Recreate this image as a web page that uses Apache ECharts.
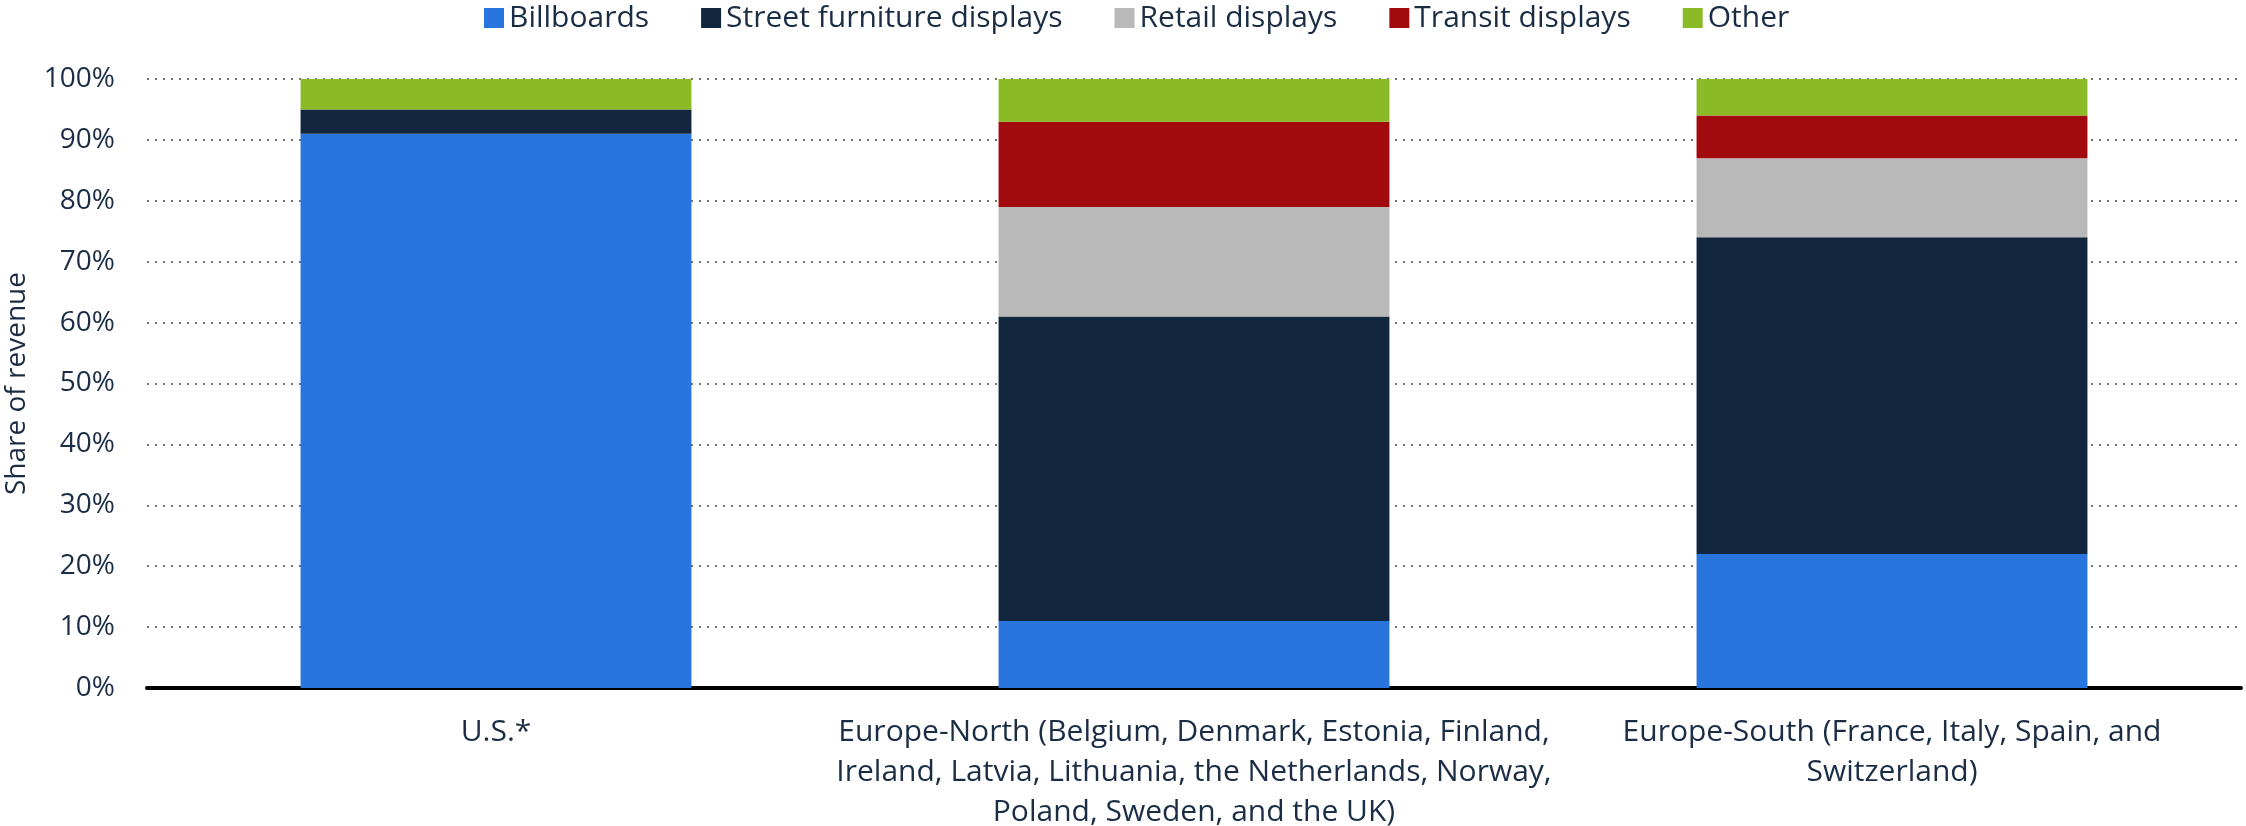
<!DOCTYPE html>
<html>
<head>
<meta charset="utf-8">
<script src="https://cdn.jsdelivr.net/npm/echarts@6/dist/echarts.min.js"></script>
<style>
html,body{margin:0;padding:0;background:#fff;}
#chart{width:2246px;height:826px;}
</style>
</head>
<body>
<div id="chart"></div>
<script>
// regions (line breaks as in the original labels)
var categories = [
	'U.S.*',
	'Europe-North (Belgium, Denmark, Estonia, Finland,\nIreland, Latvia, Lithuania, the Netherlands, Norway,\nPoland, Sweden, and the UK)',
	'Europe-South (France, Italy, Spain, and\nSwitzerland)'
];
var seriesNames = ['Billboards', 'Street furniture displays', 'Retail displays', 'Transit displays', 'Other'];
var billboards = [91, 11, 22];
var streetFurniture = [4, 50, 52];
var retail = [0, 18, 13];
var transit = [0, 14, 7];
var other = [5, 7, 6];
var yTicks = [0, 10, 20, 30, 40, 50, 60, 70, 80, 90, 100];

var colors = ['#2876dd', '#12263d', '#b9b9b9', '#a20b0e', '#8aba25'];
var textColor = '#1b2d45';
var values = [billboards, streetFurniture, retail, transit, other];

var series = [];
for (var i = 0; i < seriesNames.length; i++) {
	series.push({
		name: seriesNames[i],
		type: 'bar',
		stack: 'total',
		barWidth: '56%',
		data: values[i],
		itemStyle: {color: colors[i]}
	});
}

var myChart = echarts.init(document.getElementById('chart'));
var option = {
	animation: false,
	color: colors,
	textStyle: {fontFamily: 'Open Sans'},
	legend: {
		top: 3,
		left: 484,
		padding: 0,
		itemWidth: 20,
		itemHeight: 20,
		itemGap: 52,
		icon: 'rect',
		textStyle: {fontSize: 30, color: textColor, fontFamily: 'Open Sans'},
		data: seriesNames
	},
	grid: {left: 147, right: 5, top: 79, bottom: 138, containLabel: false, outerBoundsMode: 'none'},
	xAxis: {
		type: 'category',
		data: categories,
		axisLine: {show: true, lineStyle: {color: '#000', width: 4}},
		axisTick: {show: false},
		axisLabel: {
			interval: 0,
			margin: 24,
			fontSize: 30,
			lineHeight: 40,
			color: textColor,
			fontFamily: 'Open Sans',
			align: 'center'
		}
	},
	yAxis: {
		type: 'value',
		min: yTicks[0],
		max: yTicks[yTicks.length - 1],
		interval: 10,
		name: 'Share of revenue',
		nameLocation: 'middle',
		nameGap: 116,
		nameTextStyle: {fontSize: 28, color: textColor, fontFamily: 'Open Sans'},
		axisLine: {show: false},
		axisTick: {show: false},
		axisLabel: {
			margin: 32,
			fontSize: 28,
			color: textColor,
			fontFamily: 'Open Sans',
			formatter: function (v) { return v + '%'; }
		},
		splitLine: {
			show: true,
			lineStyle: {color: '#444', width: 1.5, type: [2, 6]}
		}
	},
	series: series
};
myChart.setOption(option);
</script>
</body>
</html>
